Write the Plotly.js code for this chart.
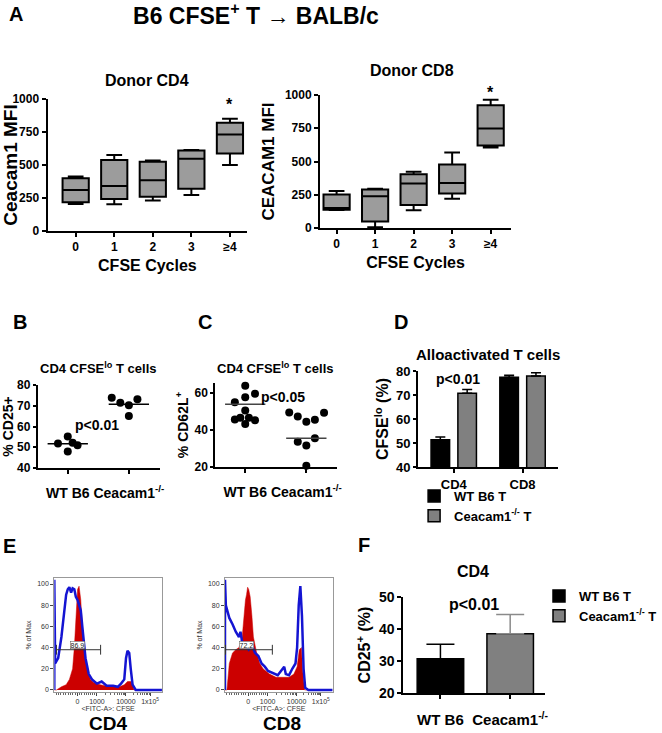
<!DOCTYPE html>
<html><head><meta charset="utf-8">
<script src="https://cdn.plot.ly/plotly-3.0.1.min.js"></script>
<style>html,body{margin:0;padding:0;background:#fff}</style>
</head><body><div id="chart" style="width:662px;height:733px"></div>
<script>
// ---------- Panel A data (box summaries) ----------
const cyclesA = ['0','1','2','3','≥4'];
const cyclePos = [0,1,2,3,4];
const cd4Min = [205,202,232,273,500];
const cd4Q1  = [217,242,260,321,588];
const cd4Med = [310,341,384,548,732];
const cd4Q3  = [400,538,525,609,821];
const cd4Max = [412,576,535,614,851];
const cd8Min = [135,5,133,219,606];
const cd8Q1  = [138,48,173,259,621];
const cd8Med = [150,239,334,339,749];
const cd8Q3  = [251,289,405,477,922];
const cd8Max = [279,296,422,568,965];

// ---------- Panel B / C data (dot plots) ----------
const groupsBC = ['WT B6','Ceacam1<sup>-/-</sup>'];
const bWT = [51.8,55.2,52.2,51.0,48.0];
const bWTJitter = [-0.16,0,0.08,0.16,0];
const bKO = [73.9,71.5,70.2,73.1,65.1];
const bKOJitter = [-0.28,-0.14,0,0.14,0];
const bLines = [51.7,70.7];
const cWT = [63.9,55.0,57.7,59.6,50.5,45.7,46.6,46.6,45.2,43.2];
const cWTJitter = [0,-0.17,0,0.16,0,-0.17,-0.08,0.06,0.16,0];
const cKO = [49.5,47.3,44.5,45.5,49.3,33.6,31.6,35.5,20.7];
const cKOJitter = [-0.28,-0.14,0,0.14,0.29,-0.14,0,0.14,0];
const cLines = [53.9,35.5];

// ---------- Panel D data ----------
const dGroups = ['CD4','CD8'];
const dWT = [51.4,77.4], dWTErr = [1.1,0.8];
const dKO = [70.7,77.9], dKOErr = [1.6,1.4];

// ---------- Panel F data ----------
const fGroups = ['WT B6','Ceacam1<sup>-/-</sup>'];
const fWT = [30.7], fWTErr = [4.5];
const fKO = [38.5], fKOErr = [6.0];

// ---------- Panel E data (histograms, x = display channel 0-100) ----------
const eTickPos = [21.6,39.6,66.5,89];
const eTickText = ['0','1000','10000','1x10<sup>5</sup>'];
const cd4RedX = [0,2,6.6,11,14,17,18.6,20,21.6,23,24.6,26,27.6,30.6,33.6,36.6,42.6,51.6,60.6,65,68,71,72.7,74,100];
const cd4RedY = [0,0,3,5,10,20,40,70,95,98,85,60,40,20,10,7,5,3,3,5,8,8,5,0,0];
const cd4BlueX = [0,0,0.8,3.6,6.6,9.6,11,12.5,14,15.6,17,18.6,20,21.6,23,24.6,26,27.6,29,32,35,39.6,44,48.6,54.6,59,62,65,66.6,68,69.6,71,72.7,75.6,100];
const cd4BlueY = [0,104,25,30,50,75,90,95,97,92,96,95,88,85,80,75,60,45,30,15,10,6,8,4,4,3,6,10,30,37,35,20,5,0,0];
const cd8RedX = [0,1.8,4,7,10,13,16,17.4,19,20,21,22,23.4,25,26.4,29.4,32.4,35.4,41.4,47.4,53.4,59.5,64,67,69,71,72,74,100];
const cd8RedY = [0,0,25,35,38,40,50,70,85,90,97,95,88,70,50,35,25,20,15,12,12,12,15,22,38,40,20,0,0];
const cd8BlueX = [0,0,0.8,2,4,7,10,13,14.4,16,19,22,25,28,31,34,37,40,44.4,49,52,55,56.5,59.5,62.5,65.5,67,68.5,70,71.5,73,74.5,77.5,100];
const cd8BlueY = [0,104,80,75,68,62,55,50,55,45,42,38,42,35,32,25,22,18,16,14,18,22,15,14,20,25,40,80,98,70,20,2,0,0];
const gateCD4X = [2,43], gateCD4Y = [38,38], gateCD4Label = '86.9';
const gateCD8X = [0.5,44], gateCD8Y = [38,38], gateCD8Label = '72.2';

// ---------- helpers ----------
const W = 662, H = 733;
const px = v => v / W;
const py = v => 1 - v / H;
const FONT = 'Liberation Sans, Arial, sans-serif';

const traces = [];
function box(q1, med, q3, lo, hi, xa, ya) {
  traces.push({type:'box', x: cyclePos, q1: q1, median: med, q3: q3, lowerfence: lo, upperfence: hi,
    width: 0.68, fillcolor: '#9c9c9c', line: {color: '#000', width: 2}, whiskerwidth: 0.6,
    boxpoints: false, showlegend: false, xaxis: xa, yaxis: ya, hoverinfo: 'skip'});
}
box(cd4Q1, cd4Med, cd4Q3, cd4Min, cd4Max, 'x', 'y');
box(cd8Q1, cd8Med, cd8Q3, cd8Min, cd8Max, 'x2', 'y2');

function dots(vals, jit, g, xa, ya) {
  traces.push({type:'scatter', mode:'markers', x: vals.map((v,i)=>g + jit[i]), y: vals,
    marker:{color:'#000', size:8}, showlegend:false, xaxis:xa, yaxis:ya, cliponaxis:false});
}
function meanLine(v, g, xa, ya, col) {
  traces.push({type:'scatter', mode:'lines', x:[g-0.33, g+0.33], y:[v, v],
    line:{color:col, width:1.5}, showlegend:false, xaxis:xa, yaxis:ya});
}
dots(bWT, bWTJitter, 0, 'x3', 'y3');
dots(bKO, bKOJitter, 1, 'x3', 'y3');
bLines.forEach((v,i)=>meanLine(v, i, 'x3', 'y3', '#000'));
dots(cWT, cWTJitter, 0, 'x4', 'y4');
dots(cKO, cKOJitter, 1, 'x4', 'y4');
cLines.forEach((v,i)=>meanLine(v, i, 'x4', 'y4', '#444'));

// D bars
traces.push({type:'bar', name:'WT B6 T', x:[0,1], y:dWT, width:0.27, offset:-0.33,
  marker:{color:'#000', line:{color:'#000', width:1.5}},
  error_y:{type:'data', symmetric:false, array:dWTErr, arrayminus:[0,0], color:'#000', thickness:1.5, width:5},
  xaxis:'x5', yaxis:'y5', legend:'legend'});
traces.push({type:'bar', name:'Ceacam1<sup>-/-</sup> T', x:[0,1], y:dKO, width:0.27, offset:0.06,
  marker:{color:'#808080', line:{color:'#000', width:1.5}},
  error_y:{type:'data', symmetric:false, array:dKOErr, arrayminus:[0,0], color:'#000', thickness:1.5, width:5},
  xaxis:'x5', yaxis:'y5', legend:'legend'});

// F bars
traces.push({type:'bar', name:'WT B6 T', x:[0], y:fWT, width:0.667, offset:-0.333,
  marker:{color:'#000', line:{color:'#000', width:1.5}},
  error_y:{type:'data', symmetric:false, array:fWTErr, arrayminus:[0], color:'#000', thickness:1.5, width:14},
  xaxis:'x8', yaxis:'y8', legend:'legend2'});
traces.push({type:'bar', name:'Ceacam1<sup>-/-</sup> T', x:[1], y:fKO, width:0.667, offset:-0.333,
  marker:{color:'#808080', line:{color:'#000', width:1.5}},
  error_y:{type:'data', symmetric:false, array:fKOErr, arrayminus:[0], color:'#8a8a8a', thickness:1.5, width:14},
  xaxis:'x8', yaxis:'y8', legend:'legend2'});

// E histograms
function hist(rx, ry, bx, by, gx, gy, xa, ya) {
  traces.push({type:'scatter', mode:'lines', x:rx, y:ry, fill:'tozeroy', fillcolor:'#cc0000',
    line:{color:'#cc0000', width:0.5}, showlegend:false, xaxis:xa, yaxis:ya});
  traces.push({type:'scatter', mode:'lines', x:bx, y:by, line:{color:'#1414d2', width:2.5},
    showlegend:false, xaxis:xa, yaxis:ya});
  traces.push({type:'scatter', mode:'lines+markers', x:gx, y:gy, line:{color:'#333', width:1},
    marker:{symbol:'line-ns-open', size:7, color:'#333', line:{width:1, color:'#333'}},
    showlegend:false, xaxis:xa, yaxis:ya});
}
hist(cd4RedX, cd4RedY, cd4BlueX, cd4BlueY, gateCD4X, gateCD4Y, 'x6', 'y6');
hist(cd8RedX, cd8RedY, cd8BlueX, cd8BlueY, gateCD8X, gateCD8Y, 'x7', 'y7');

// ---------- axes ----------
const baseAx = {showline:true, linecolor:'#000', linewidth:2, ticks:'outside', ticklen:4, tickwidth:2,
  tickcolor:'#000', showgrid:false, zeroline:false, fixedrange:true, tickangle:0};
function mk(o){ return Object.assign({}, baseAx, o); }

// minor ticks for flow axes
const eMinor = [];
for (let i=1;i<=9;i++) eMinor.push(21.6 - 2.2*i);
for (let i=1;i<=9;i++) eMinor.push(21.6 + 2.0*i);
for (let i=2;i<=9;i++) eMinor.push(39.6 + 26.9*Math.log10(i));
for (let i=2;i<=9;i++) eMinor.push(66.5 + 22.5*Math.log10(i));
const eX = (dom) => ({domain:dom, range:[0,100], showline:true, mirror:true, linecolor:'#999', linewidth:1,
  ticks:'outside', ticklen:3, tickwidth:1, tickcolor:'#444', tickvals:eTickPos, ticktext:eTickText, tickangle:0,
  tickfont:{size:7, weight:'normal', color:'#333'}, showgrid:false, zeroline:false,
  minor:{tickvals:eMinor, ticks:'outside', ticklen:2, tickcolor:'#666', tickwidth:1},
  title:{text:'&lt;FITC-A&gt;: CFSE', font:{size:7, weight:'normal', color:'#333'}, standoff:0}});
const eY = (dom, anc) => ({domain:dom, range:[-1.9,105.7], showline:true, mirror:true, linecolor:'#999', linewidth:1,
  ticks:'outside', ticklen:3, tickwidth:1, tickcolor:'#444', tickvals:[0,20,40,60,80,100],
  tickfont:{size:7, weight:'normal', color:'#333'}, showgrid:false, zeroline:false, anchor:anc,
  title:{text:'% of Max', font:{size:7, weight:'normal', color:'#333'}, standoff:4}});

const layout = {
  width: W, height: H, margin:{l:0,r:0,t:0,b:0}, paper_bgcolor:'#fff', plot_bgcolor:'rgba(0,0,0,0)',
  font:{family:FONT, size:12, color:'#000', weight:'bold'},
  barmode:'overlay', showlegend:true,
  title:{text:'B6 CFSE<sup>+</sup> T → BALB/c', x:px(256), xanchor:'center', y:py(16), yanchor:'middle',
    font:{size:23, weight:'bold'}},
  // A - CD4
  xaxis: mk({domain:[px(49),px(255)], range:[-0.73,4.45], tickvals:cyclePos, ticktext:cyclesA, anchor:'y',
    tickfont:{size:12}, title:{text:'CFSE Cycles', font:{size:16}, standoff:6}}),
  yaxis: mk({domain:[py(231),py(99)], range:[0,1000], tickvals:[0,250,500,750,1000], anchor:'x',
    tickfont:{size:12}, title:{text:'Ceacam1 MFI', font:{size:19}, standoff:6}}),
  // A - CD8
  xaxis2: mk({domain:[px(330),px(527)], range:[-0.43,4.53], tickvals:cyclePos, ticktext:cyclesA, anchor:'y2',
    tickfont:{size:12}, title:{text:'CFSE Cycles', font:{size:16}, standoff:6}}),
  yaxis2: mk({domain:[py(228),py(95)], range:[0,1000], tickvals:[0,250,500,750,1000], anchor:'x2',
    tickfont:{size:12}, title:{text:'CEACAM1 MFI', font:{size:17}, standoff:6}}),
  // B
  xaxis3: mk({domain:[px(39),px(165)], range:[-0.49,1.51], tickvals:[0,1], ticktext:groupsBC, anchor:'y3',
    tickfont:{size:14}, ticklabelstandoff:7}),
  yaxis3: mk({domain:[py(468),py(385)], range:[40,80], dtick:10, anchor:'x3', ticklen:3,
    tickfont:{size:12}, title:{text:'% CD25+', font:{size:14}, standoff:3}}),
  // C
  xaxis4: mk({domain:[px(222),px(348)], range:[-0.49,1.51], tickvals:[0,1], ticktext:groupsBC, anchor:'y4',
    tickfont:{size:14}, ticklabelstandoff:7}),
  yaxis4: mk({domain:[py(467),py(383)], range:[20,65.4], tickvals:[20,40,60], anchor:'x4', ticklen:3,
    tickfont:{size:12}, title:{text:'% CD62L<sup>+</sup>', font:{size:14}, standoff:3}}),
  // D
  xaxis5: mk({domain:[px(431),px(575)], range:[-0.52,1.51], tickvals:[0,1], ticktext:dGroups, anchor:'y5',
    tickfont:{size:13}}),
  yaxis5: mk({domain:[py(467),py(371)], range:[40,80], dtick:10, anchor:'x5', ticklen:3,
    tickfont:{size:13}, title:{text:'CFSE<sup>lo</sup> (%)', font:{size:16}, standoff:3}}),
  // E
  xaxis6: Object.assign(eX([px(56),px(167)]), {anchor:'y6'}),
  yaxis6: eY([py(692),py(578)], 'x6'),
  xaxis7: Object.assign(eX([px(232),px(343)]), {anchor:'y7'}),
  yaxis7: eY([py(692),py(578)], 'x7'),
  // F
  xaxis8: mk({domain:[px(416),px(562)], range:[-0.53,1.5], tickvals:[0,1], ticktext:fGroups, anchor:'y8',
    tickfont:{size:15}, ticklabelstandoff:8}),
  yaxis8: mk({domain:[py(693),py(597)], range:[20,50], dtick:10, anchor:'x8', ticklen:4,
    tickfont:{size:14}, title:{text:'CD25<sup>+</sup> (%)', font:{size:16}, standoff:4}}),
  legend:{x:px(427), y:py(481), xanchor:'left', yanchor:'top', bgcolor:'rgba(0,0,0,0)',
    font:{size:13, weight:'bold'}, traceorder:'normal', tracegroupgap:0},
  legend2:{x:px(556), y:py(581), xanchor:'left', yanchor:'top', bgcolor:'rgba(0,0,0,0)',
    font:{size:13, weight:'bold'}, traceorder:'normal', tracegroupgap:0},
  annotations: []
};

function ann(text, x, y, size, extra) {
  layout.annotations.push(Object.assign({text:text, x:px(x), y:py(y), xref:'paper', yref:'paper',
    showarrow:false, xanchor:'center', yanchor:'middle', font:{size:size, weight:'bold'}}, extra||{}));
}
ann('A', 17, 14, 20);
ann('B', 21, 322, 20);
ann('C', 211, 322, 20);
ann('D', 413, 322, 20);
ann('E', 10, 546, 20);
ann('F', 375, 545, 20);
ann('Donor CD4', 152, 80, 16);
ann('Donor CD8', 425, 70, 16);
ann('CD4 CFSE<sup>lo</sup> T cells', 101, 368, 13);
ann('CD4 CFSE<sup>lo</sup> T cells', 284, 368, 13);
ann('Alloactivated T cells', 503, 354, 15);
ann('p<0.01', 100, 425, 14);
ann('p<0.05', 292, 397, 14);
ann('p<0.01', 472, 379, 14);
ann('CD4', 488, 571, 16);
ann('p<0.01', 489, 604, 16);
ann('CD4', 111, 723, 19, {yanchor:'middle', borderpad:0});
ann('CD8', 291, 723, 19, {yanchor:'middle', borderpad:0});
ann('*', 237, 105, 16);
ann('*', 506, 92, 16);
layout.annotations.push({text:gateCD4Label, x:21.6, y:42, xref:'x6', yref:'y6', showarrow:false,
  bgcolor:'#fff', bordercolor:'#555', borderwidth:0.5, borderpad:0, font:{size:7, weight:'normal', color:'#222'}});
layout.annotations.push({text:gateCD8Label, x:20.4, y:42, xref:'x7', yref:'y7', showarrow:false,
  bgcolor:'#fff', bordercolor:'#555', borderwidth:0.5, borderpad:0, font:{size:7, weight:'normal', color:'#222'}});

Plotly.newPlot('chart', traces, layout, {displayModeBar:false, staticPlot:true});
</script></body></html>
